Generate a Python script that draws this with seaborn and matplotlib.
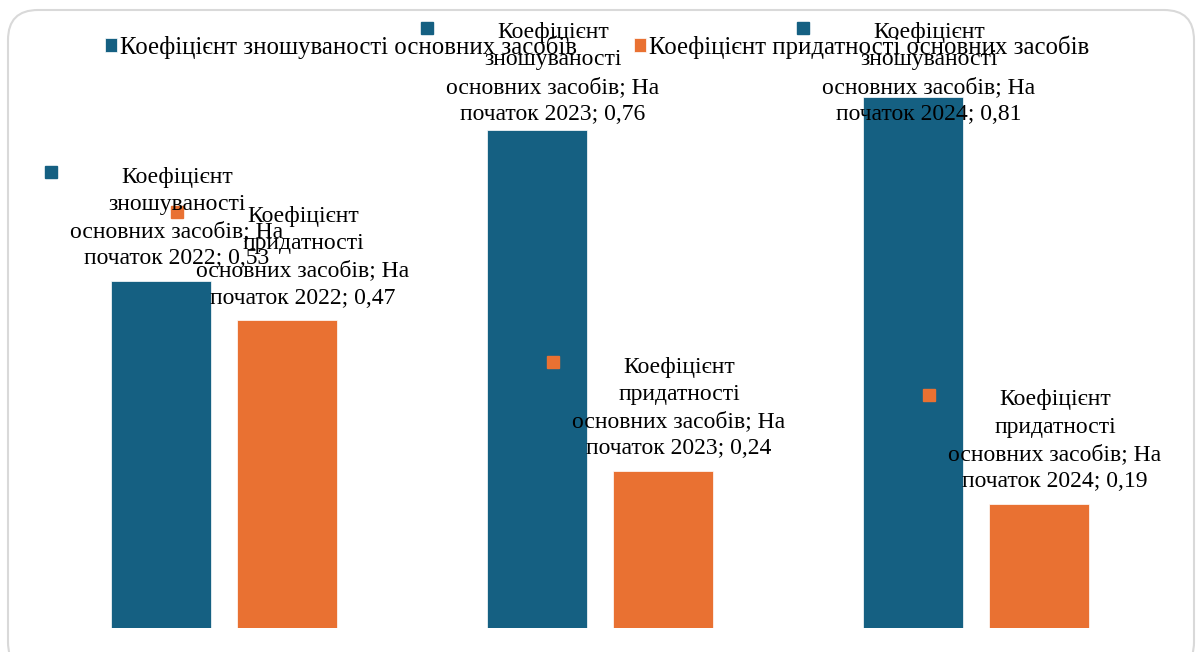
import textwrap
import numpy as np
import pandas as pd
import matplotlib
matplotlib.use("Agg")
import matplotlib.pyplot as plt
from matplotlib.patches import FancyBboxPatch
from matplotlib.transforms import offset_copy
import seaborn as sns

# Data
categories = ["На початок 2022", "На початок 2023", "На початок 2024"]
series_names = ["Коефіцієнт зношуваності основних засобів",
                "Коефіцієнт придатності основних засобів"]
wear = [0.53, 0.76, 0.81]
fit = [0.47, 0.24, 0.19]

pallet = ["#156082", "#E97132"]

df = pd.DataFrame({
    "category": categories * 2,
    "series": [series_names[0]] * 3 + [series_names[1]] * 3,
    "value": wear + fit,
})

sns.set_style("white")
plt.rcParams['font.family'] = ['Liberation Serif', 'DejaVu Serif']
plt.rcParams['text.color'] = 'black'
FS = 17


def make_label(name, cat, v):
    # Excel-like wrapping: first two words of the name on own lines
    words = name.split()
    rest = " ".join(words[2:]) + f"; {cat}; {str(v).replace('.', ',')}"
    return "\n".join(words[:2]) + "\n" + textwrap.fill(rest, width=20)


fig = plt.figure(figsize=(11.98, 6.52), dpi=100)
ax = fig.add_axes([36 / 1198, 24 / 652, (1164 - 36) / 1198, 589.5 / 652])

sns.barplot(data=df, x="category", y="value", hue="series", palette=pallet,
            width=0.67, gap=0.2, saturation=1, ax=ax,
            edgecolor="white", linewidth=0.5)
ax.set_ylim(0, 0.9)
ax.set_xlim(-0.5, 2.5)

handles, labels = ax.get_legend_handles_labels()
ax.get_legend().remove()
ax.axis("off")

# Data labels (series; category; value)
pad, cap = 0.0175, 0.768
txt_tr = offset_copy(ax.transData, fig=fig, x=16, y=0, units="dots")
mk_tr = offset_copy(ax.transData, fig=fig, x=-110, y=97, units="dots")
for cont, name, vals, col in zip(ax.containers, series_names, [wear, fit], pallet):
    for rect, cat, v in zip(cont, categories, vals):
        xc = rect.get_x() + rect.get_width() / 2
        ly = min(v + pad, cap)
        ax.text(xc, ly, make_label(name, cat, v), transform=txt_tr,
                ha="center", va="bottom", multialignment="center",
                fontsize=FS, linespacing=1.39, color="black", clip_on=False)
        ax.plot([xc], [ly], marker="s", markersize=8.6, color=col,
                transform=mk_tr, clip_on=False)

leg = fig.legend(handles, labels, loc="center", bbox_to_anchor=(597 / 1198, 1 - 47 / 652),
                 ncol=2, frameon=False, fontsize=17.8, handlelength=0.5, handleheight=0.5,
                 handletextpad=0.1, columnspacing=2.3)
for t in leg.get_texts():
    t.set_color("black")

# rounded chart border
border = FancyBboxPatch((0.08, -0.2), 11.86, 6.62,
                        boxstyle="round,pad=0,rounding_size=0.3",
                        transform=fig.dpi_scale_trans, fill=False,
                        edgecolor="#d9d9d9", linewidth=1.5)
fig.patches.append(border)

fig.savefig("out.png", dpi=100)
